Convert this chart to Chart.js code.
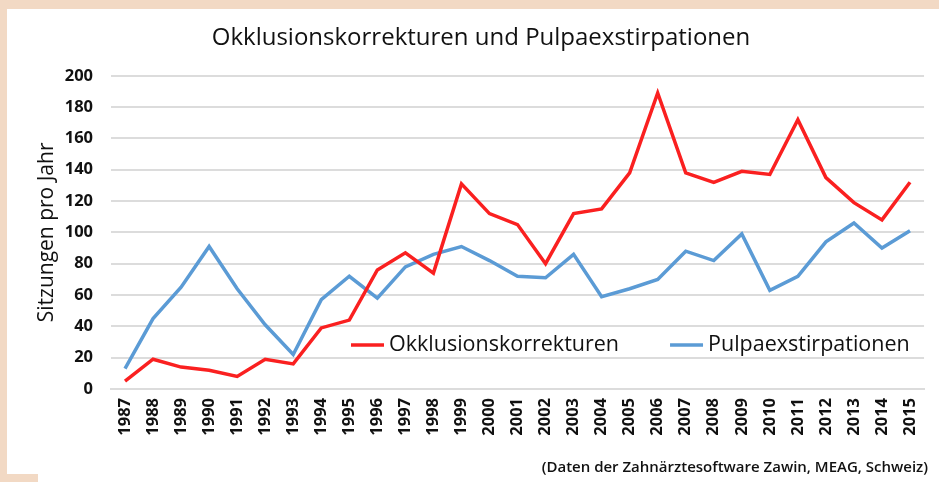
<!DOCTYPE html>
<html>
<head>
<meta charset="utf-8">
<script src="https://cdn.jsdelivr.net/npm/chart.js@4.4.1/dist/chart.umd.min.js"></script>
<style>
    html, body { margin: 0; padding: 0; background: #f2d9c4; width: 939px; height: 482px; overflow: hidden; }
    #panel { position: absolute; left: 7px; top: 9px; width: 932px; height: 473px; background: #fff; }
    #corner { position: absolute; left: 0; top: 474px; width: 38px; height: 8px; background: #f2d9c4; }
</style>
</head>
<body>
<div id="panel"><canvas id="chart" width="932" height="473"></canvas></div>
<div id="corner"></div>
<script>
const years = ["1987", "1988", "1989", "1990", "1991", "1992", "1993", "1994", "1995", "1996",
    "1997", "1998", "1999", "2000", "2001", "2002", "2003", "2004", "2005", "2006",
    "2007", "2008", "2009", "2010", "2011", "2012", "2013", "2014", "2015"];
const okklusion = [5, 19, 14, 12, 8, 19, 16, 39, 44, 76,
    87, 74, 131, 112, 105, 80, 112, 115, 138, 189,
    138, 132, 139, 137, 172, 135, 119, 108, 132];
const pulpa = [13, 45, 65, 91, 64, 41, 22, 57, 72, 58,
    78, 86, 91, 82, 72, 71, 86, 59, 64, 70,
    88, 82, 99, 63, 72, 94, 106, 90, 101];
const chartTitle = "Okklusionskorrekturen und Pulpaexstirpationen";
const yTitle = "Sitzungen pro Jahr";
const sourceNote = "(Daten der Zahnärztesoftware Zawin, MEAG, Schweiz)";

const FONT = "'Open Sans', sans-serif";

// legend drawn inside the plot area, like in the original
const innerLegend = {
    id: "innerLegend",
    afterDatasetsDraw(chart) {
        const ctx = chart.ctx;
        const area = chart.chartArea;
        let x = area.left + 240;
        const y = area.bottom - 44;
        ctx.save();
        ctx.font = "21.5px " + FONT;
        ctx.textBaseline = "middle";
        chart.data.datasets.forEach((ds) => {
            ctx.strokeStyle = ds.borderColor;
            ctx.lineWidth = 3.5;
            ctx.beginPath();
            ctx.moveTo(x, y);
            ctx.lineTo(x + 33, y);
            ctx.stroke();
            ctx.fillStyle = "#111";
            ctx.fillText(ds.label, x + 38, y);
            x += 38 + ctx.measureText(ds.label).width + 51;
        });
        ctx.restore();
    },
};

const ctx = document.getElementById("chart").getContext("2d");
new Chart(ctx, {
    type: "line",
    data: {
        labels: years,
        datasets: [
            {
                label: "Okklusionskorrekturen",
                data: okklusion,
                borderColor: "#fa2020",
                borderWidth: 3.5,
                pointRadius: 0,
                tension: 0,
                fill: false,
            },
            {
                label: "Pulpaexstirpationen",
                data: pulpa,
                borderColor: "#5b9bd5",
                borderWidth: 3.5,
                pointRadius: 0,
                tension: 0,
                fill: false,
            },
        ],
    },
    options: {
        responsive: false,
        animation: false,
        layout: { padding: { left: 27, right: 11, top: 0, bottom: 0 } },
        scales: {
            x: {
                offset: true,
                grid: { display: false, drawTicks: false },
                border: { display: true, color: "#dcdcdc", width: 2 },
                ticks: {
                    color: "#111",
                    font: { family: FONT, size: 16.5, weight: "bold" },
                    maxRotation: 90,
                    minRotation: 90,
                    padding: 9,
                    autoSkip: false,
                },
                afterFit: (scale) => { scale.height = 70; },
            },
            y: {
                min: 0,
                max: 200,
                grid: { color: "#dcdcdc", lineWidth: 2, drawTicks: false },
                border: { display: false },
                ticks: {
                    stepSize: 20,
                    color: "#111",
                    font: { family: FONT, size: 16.5, weight: "bold" },
                    padding: 18,
                },
                title: {
                    display: true,
                    text: yTitle,
                    color: "#111",
                    font: { family: FONT, size: 21 },
                    padding: { top: 0, bottom: 3 },
                },
                afterFit: (scale) => { scale.width = 77; },
            },
        },
        plugins: {
            legend: { display: false },
            tooltip: { enabled: false },
            title: {
                display: true,
                text: chartTitle,
                color: "#111",
                font: { family: FONT, size: 24, weight: "normal" },
                padding: { top: 15, bottom: 23 },
            },
            subtitle: {
                display: true,
                position: "bottom",
                align: "end",
                text: sourceNote,
                color: "#111",
                font: { family: FONT, size: 15, weight: "600" },
                padding: { top: 0, bottom: 5 },
            },
        },
    },
    plugins: [innerLegend],
});
</script>
</body>
</html>
